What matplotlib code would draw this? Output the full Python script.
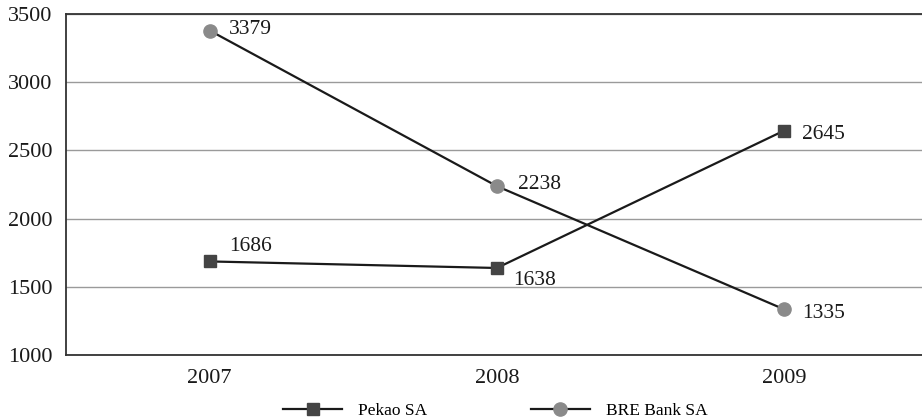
import matplotlib.pyplot as plt
from matplotlib.lines import Line2D

years = ['2007', '2008', '2009']
pekao = [1686, 1638, 2645]
bre = [3379, 2238, 1335]
y_ticks = [1000, 1500, 2000, 2500, 3000, 3500]

plt.rcParams['font.family'] = ['Liberation Serif', 'DejaVu Serif']

fig = plt.figure(figsize=(9.22, 4.18), dpi=100)
ax = fig.add_axes([0.0716, 0.1507, 0.9284, 0.8158])

x = list(range(len(years)))
ax.plot(x, pekao, color='#1a1a1a', lw=1.6, marker='s', ms=8.5,
        mfc='#444444', mec='#444444', zorder=3)
ax.plot(x, bre, color='#1a1a1a', lw=1.6, marker='o', ms=9.5,
        mfc='#8a8a8a', mec='#8a8a8a', zorder=3)

# value labels
pekao_off = [(14, 11), (12, -9), (13, -3)]
bre_off = [(14, 1), (15, 1), (13, -3)]
for i, v in enumerate(pekao):
    ax.annotate(str(v), (i, v), xytext=pekao_off[i], textcoords='offset points',
                fontsize=15.5, color='#1a1a1a', va='center', ha='left')
for i, v in enumerate(bre):
    ax.annotate(str(v), (i, v), xytext=bre_off[i], textcoords='offset points',
                fontsize=15.5, color='#1a1a1a', va='center', ha='left')

ax.set_xlim(-0.5, 2.48)
ax.set_ylim(1000, 3500)
ax.set_xticks(x)
ax.set_xticklabels(years)
ax.set_yticks(y_ticks)
ax.tick_params(length=0, labelsize=16, colors='#1a1a1a')
ax.tick_params(axis='x', pad=10)
ax.tick_params(axis='y', pad=10)
ax.grid(axis='y', color='#9a9a9a', lw=1)
ax.set_axisbelow(True)
for s in ['left', 'bottom', 'top']:
    ax.spines[s].set_color('#333333')
    ax.spines[s].set_linewidth(1.3)
ax.spines['right'].set_visible(False)

handles = [
    Line2D([], [], color='#1a1a1a', lw=1.6, marker='s', ms=8.5, mfc='#444444', mec='#444444'),
    Line2D([], [], color='#1a1a1a', lw=1.6, marker='o', ms=9.5, mfc='#8a8a8a', mec='#8a8a8a'),
]
fig.legend(handles, ['Pekao SA', 'BRE Bank SA'], loc='lower center',
           bbox_to_anchor=(0.537, -0.04), ncol=2, frameon=False, fontsize=12.5,
           handlelength=3.4, columnspacing=6.0, handletextpad=0.9)

fig.savefig('out.png', dpi=100)
